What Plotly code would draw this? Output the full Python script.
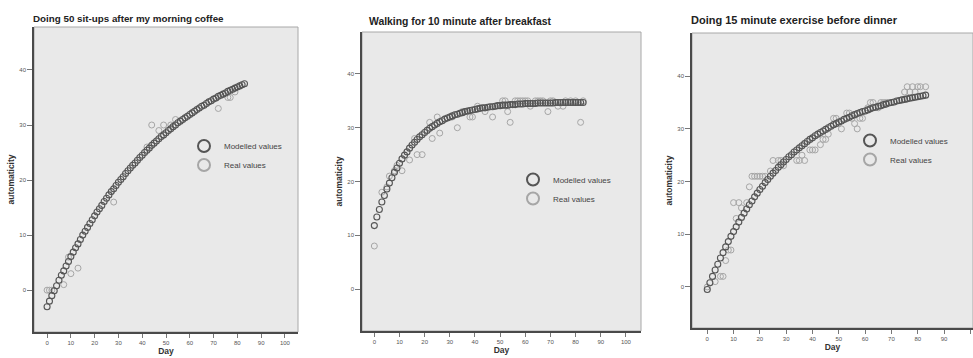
import plotly.graph_objects as go

W, H = 973, 358

# ---------------- data ----------------
days = list(range(84))

model1 = [-3.0, -2.0, -1.0, -0.1, 0.8, 1.8, 2.7, 3.5, 4.4, 5.2,
          6.1, 6.9, 7.7, 8.4, 9.2, 10.0, 10.7, 11.4, 12.1, 12.8,
          13.5, 14.2, 14.8, 15.4, 16.1, 16.7, 17.3, 17.9, 18.4, 19.0,
          19.6, 20.1, 20.6, 21.2, 21.7, 22.2, 22.7, 23.1, 23.6, 24.1,
          24.5, 25.0, 25.4, 25.8, 26.3, 26.7, 27.1, 27.5, 27.9, 28.2,
          28.6, 29.0, 29.3, 29.7, 30.0, 30.4, 30.7, 31.0, 31.3, 31.6,
          31.9, 32.2, 32.5, 32.8, 33.1, 33.4, 33.6, 33.9, 34.2, 34.4,
          34.7, 34.9, 35.2, 35.4, 35.6, 35.8, 36.1, 36.3, 36.5, 36.7,
          36.9, 37.1, 37.3, 37.5]

model2 = [11.8, 13.4, 14.8, 16.2, 17.4, 18.6, 19.7, 20.7, 21.7, 22.5,
          23.4, 24.2, 24.9, 25.5, 26.2, 26.8, 27.3, 27.8, 28.3, 28.7,
          29.1, 29.5, 29.9, 30.2, 30.5, 30.8, 31.1, 31.3, 31.6, 31.8,
          32.0, 32.2, 32.4, 32.5, 32.7, 32.8, 33.0, 33.1, 33.2, 33.3,
          33.4, 33.5, 33.6, 33.7, 33.7, 33.8, 33.9, 33.9, 34.0, 34.1,
          34.1, 34.2, 34.2, 34.2, 34.3, 34.3, 34.3, 34.4, 34.4, 34.4,
          34.5, 34.5, 34.5, 34.5, 34.5, 34.6, 34.6, 34.6, 34.6, 34.6,
          34.6, 34.6, 34.7, 34.7, 34.7, 34.7, 34.7, 34.7, 34.7, 34.7,
          34.7, 34.7, 34.7, 34.7]

model3 = [-0.5, 0.8, 2.0, 3.2, 4.3, 5.5, 6.5, 7.6, 8.6, 9.6,
          10.5, 11.4, 12.3, 13.2, 14.0, 14.8, 15.6, 16.3, 17.1, 17.8,
          18.5, 19.1, 19.8, 20.4, 21.0, 21.6, 22.1, 22.7, 23.2, 23.7,
          24.2, 24.7, 25.1, 25.6, 26.0, 26.4, 26.8, 27.2, 27.6, 28.0,
          28.3, 28.7, 29.0, 29.3, 29.6, 29.9, 30.2, 30.5, 30.8, 31.0,
          31.3, 31.5, 31.8, 32.0, 32.2, 32.5, 32.7, 32.9, 33.1, 33.3,
          33.4, 33.6, 33.8, 34.0, 34.1, 34.3, 34.4, 34.6, 34.7, 34.9,
          35.0, 35.1, 35.3, 35.4, 35.5, 35.6, 35.7, 35.8, 35.9, 36.0,
          36.1, 36.2, 36.3, 36.4]

real1_days = [0, 1, 2, 7, 9, 10, 13, 28, 42, 44, 47, 49, 52, 54, 72, 76, 77, 79]
real1_vals = [0, 0, 0, 1, 6, 3, 4, 16, 26, 30, 29, 30, 30, 31, 33, 35, 35, 36]

real2_days = [0, 3, 5, 6, 8, 9, 11, 14, 16, 17, 19, 22, 23, 25, 26, 30, 31, 33, 35, 37,
              38, 39, 41, 44, 47, 48, 51, 52, 53, 54, 56, 57, 58, 59, 60, 61, 62, 64, 65, 66,
              67, 69, 70, 71, 73, 75, 76, 78, 80, 82, 83]
real2_vals = [8, 18, 19, 21, 22, 23, 22, 24, 28, 25, 25, 31, 28, 32, 29, 32, 32, 30, 33, 33,
              32, 32, 34, 33, 32, 34, 35, 35, 33, 31, 35, 35, 35, 35, 35, 35, 34, 35, 35, 35,
              35, 33, 35, 35, 34, 34, 35, 35, 35, 31, 35]

real3_days = [0, 3, 5, 6, 7, 8, 9, 10, 11, 12, 13, 15, 16, 17, 18, 19, 20, 21, 22, 24,
              25, 27, 28, 29, 34, 35, 36, 37, 39, 40, 41, 43, 44, 45, 46, 48, 49, 50, 51, 53,
              54, 55, 56, 57, 58, 59, 61, 62, 63, 65, 66, 67, 68, 75, 76, 77, 78, 79, 80, 81, 83]
real3_vals = [0, 1, 2, 2, 5, 7, 7, 16, 13, 16, 15, 16, 19, 21, 21, 21, 21, 21, 21, 22,
              24, 24, 24, 23, 24, 24, 25, 24, 26, 26, 26, 27, 28, 28, 29, 32, 32, 31, 30, 33,
              33, 32, 31, 30, 32, 32, 34, 35, 35, 34, 35, 35, 35, 37, 38, 37, 38, 37, 38, 38, 38]

titles = ["Doing 50 sit-ups after my morning coffee",
          "Walking for 10 minute after breakfast",
          "Doing 15 minute exercise before dinner"]
x_ticks = [0, 10, 20, 30, 40, 50, 60, 70, 80, 90, 100]
y_ticks = [0, 10, 20, 30, 40]
series_names = ["Modelled values", "Real values"]

# ---------------- layout geometry (pixels) ----------------
panels = [
    dict(left=34, right=298, top=27, bottom=332, xr=[-5.5, 105.5], yr=[-7.6, 47.8],
         tx=31, ty=18, ts=9.8, lx=184, ly=155.5),
    dict(left=362, right=641, top=32, bottom=331, xr=[-4.9, 106.0], yr=[-7.8, 47.8],
         tx=367, ty=22, ts=10.4, lx=513, ly=189),
    dict(left=692, right=973, top=33, bottom=328, xr=[-5.8, 101.0], yr=[-7.8, 48.2],
         tx=689, ty=20, ts=11, lx=850, ly=150),
]

FONT = "Liberation Sans, Arial, sans-serif"
MODEL_COL = "#555555"
REAL_COL = "#a6a6a6"

fig = go.Figure()
models = [model1, model2, model3]
reals = [(real1_days, real1_vals), (real2_days, real2_vals), (real3_days, real3_vals)]

layout = dict(
    width=W, height=H,
    margin=dict(l=0, r=0, t=0, b=0),
    paper_bgcolor="white",
    plot_bgcolor="#e9e9e9",
    showlegend=True,
    font=dict(family=FONT, color="#333333"),
)
annotations = []
shapes = []

for i, p in enumerate(panels):
    n = "" if i == 0 else str(i + 1)
    xa, ya = "x" + n, "y" + n
    leg = "legend" + n
    rd, rv = reals[i]
    fig.add_trace(go.Scatter(
        x=rd, y=rv, mode="markers", name=series_names[1], legend=leg, legendrank=2,
        xaxis=xa, yaxis=ya, cliponaxis=False,
        marker=dict(symbol="circle-open", size=6, color=REAL_COL, line=dict(width=1.0)),
    ))
    fig.add_trace(go.Scatter(
        x=days, y=models[i], mode="markers", name=series_names[0], legend=leg, legendrank=1,
        xaxis=xa, yaxis=ya, cliponaxis=False,
        marker=dict(symbol="circle-open", size=6, color=MODEL_COL, line=dict(width=1.1)),
    ))

    layout["xaxis" + n] = dict(
        domain=[p["left"] / W, p["right"] / W], range=p["xr"], anchor=ya,
        tickvals=x_ticks, ticks="outside", ticklen=4, tickcolor="#777777", tickwidth=1,
        tickfont=dict(size=6, color="#555555", family=FONT),
        showgrid=False, zeroline=False, showline=True, linecolor="#4a4a4a", linewidth=1.5,
        title=dict(text="Day", font=dict(size=8.5, color="#333333", family=FONT, weight="bold"),
                   standoff=0),
        fixedrange=True,
    )
    layout["yaxis" + n] = dict(
        domain=[1 - p["bottom"] / H, 1 - p["top"] / H], range=p["yr"], anchor=xa,
        tickvals=y_ticks, ticks="outside", ticklen=5, tickcolor="#777777", tickwidth=1,
        tickfont=dict(size=6, color="#555555", family=FONT),
        showgrid=False, zeroline=False, showline=True, linecolor="#4a4a4a", linewidth=1.5,
        title=dict(text="automaticity", font=dict(size=8.5, color="#333333", family=FONT, weight="bold"),
                   standoff=3),
        fixedrange=True,
    )
    layout[leg] = dict(
        x=p["lx"] / W, y=1 - p["ly"] / H, xanchor="left", yanchor="middle",
        bgcolor="rgba(0,0,0,0)", borderwidth=0, itemsizing="constant",
        font=dict(size=8, color="#444444", family=FONT),
    )
    shapes.append(dict(type="rect", xref=xa + " domain", yref=ya + " domain",
                       x0=0, x1=1, y0=0, y1=1, line=dict(color="#a8a8a8", width=1),
                       layer="below"))
    annotations.append(dict(
        text=titles[i], xref="paper", yref="paper", x=p["tx"] / W, y=1 - p["ty"] / H,
        xanchor="left", yanchor="middle", showarrow=False,
        font=dict(size=p["ts"], color="#222222", family=FONT, weight="bold"),
    ))

layout["annotations"] = annotations
layout["shapes"] = shapes
fig.update_layout(**layout)

fig.write_html("out.html")
